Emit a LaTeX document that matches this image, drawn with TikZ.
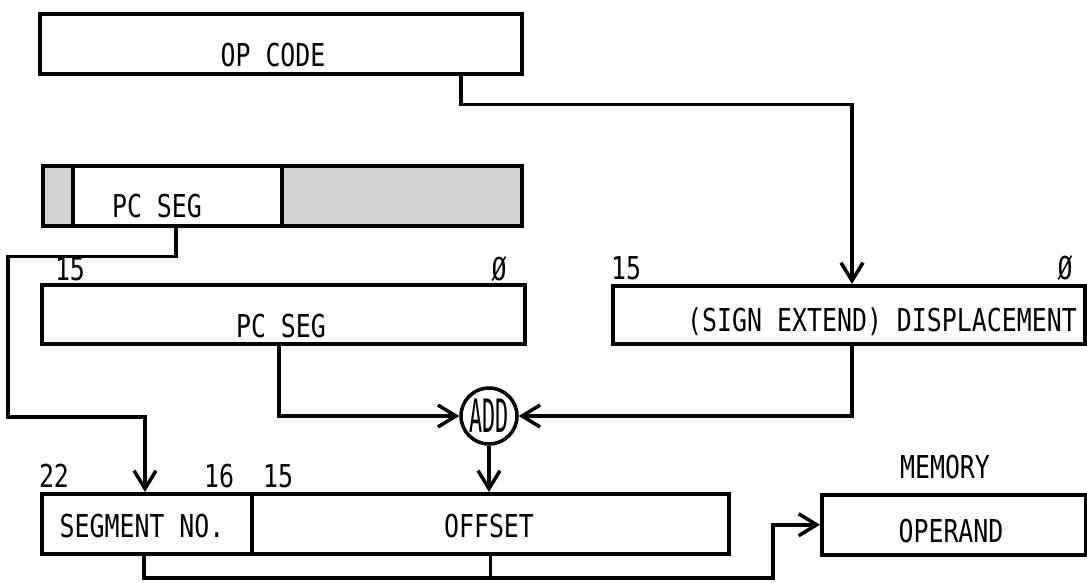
\documentclass[tikz,border=0pt]{standalone}
\usepackage{fontspec}
\usepackage{graphicx}
\usetikzlibrary{arrows.meta,calc}
\newfontfamily\condmono{DejaVu Sans Mono}[FakeStretch=0.79]
\begin{document}
\begin{tikzpicture}[x=1pt,y=-1pt,
  box/.style={draw, line width=3.5pt, inner sep=0pt, anchor=north west},
  shade/.style={box, fill=gray!35},
  lbl/.style={inner sep=0pt, anchor=base, font=\fontsize{31.5}{36}\selectfont\condmono},
  conn/.style={line width=3.5pt},
  arr/.style={conn, -{Straight Barb[length=18pt,width=22pt,line width=3.5pt]}}]
\useasboundingbox (0,0) rectangle (1087,582);
% boxes
\node[box, minimum width=482pt, minimum height=60pt] (op) at (38,12) {};
\node[shade, minimum width=30pt, minimum height=60pt] (regL) at (41,164) {};
\node[box, minimum width=209pt, minimum height=60pt] (regM) at (71,164) {};
\node[shade, minimum width=240pt, minimum height=60pt] (regR) at (280,164) {};
\node[box, minimum width=483pt, minimum height=59pt] (pcs) at (40,283) {};
\node[box, minimum width=472pt, minimum height=58pt] (disp) at (611,284) {};
\node[box, minimum width=210pt, minimum height=60pt] (seg) at (40,492) {};
\node[box, minimum width=477pt, minimum height=60pt] (off) at (250,492) {};
\node[box, minimum width=264pt, minimum height=60pt] (opd) at (820,493) {};
\node[draw, circle, line width=3.5pt, inner sep=0pt, minimum size=56pt, fill=white] (add) at (489,416)
  {\scalebox{0.6}[1]{\fontsize{46}{50}\selectfont\condmono ADD}};
% texts
\node[lbl] (topc) at (273,66) {OP CODE};
\node[lbl] (tregm) at (157,217) {PC SEG};
\node[lbl] (t15a) at (70,280) {15};
\node[lbl] (t0a) at (499,280) {Ø};
\node[lbl] (tpcs) at (281,337) {PC SEG};
\node[lbl] (t15b) at (626,279) {15};
\node[lbl] (t0b) at (1065,279) {Ø};
\node[lbl] (tdisp) at (882,331) {(SIGN EXTEND) DISPLACEMENT};
\node[lbl] (t22) at (54,487) {22};
\node[lbl] (t16) at (219,487) {16};
\node[lbl] (t15c) at (278,487) {15};
\node[lbl] (tseg) at (142,537) {SEGMENT NO.};
\node[lbl] (toff) at (489,537) {OFFSET};
\node[lbl] (tmem) at (945,478) {MEMORY};
\node[lbl] (topd) at (951,542) {OPERAND};
% coordinates for bends
\coordinate (lbend) at (8,417);
\coordinate (rb) at (773,578);
% connectors
\draw[arr] ([xshift=423pt]op.south west) -- ++(0,29) -| ([xshift=241pt]disp.north west);
\draw[arr] ([xshift=105pt]regM.south west) -- ++(0,29) -| (lbend) -| ([xshift=105pt]seg.north west);
\draw[arr] ([xshift=239pt]pcs.south west) |- (add.west);
\draw[arr] ([xshift=241pt]disp.south west) |- (add.east);
\draw[arr] (add.south) -- (add.south |- off.north);
\draw[arr] ([xshift=104pt]seg.south west) |- (rb) |- (opd.west);
\draw[conn] (off.south) -- (off.south |- rb);
\end{tikzpicture}
\end{document}
